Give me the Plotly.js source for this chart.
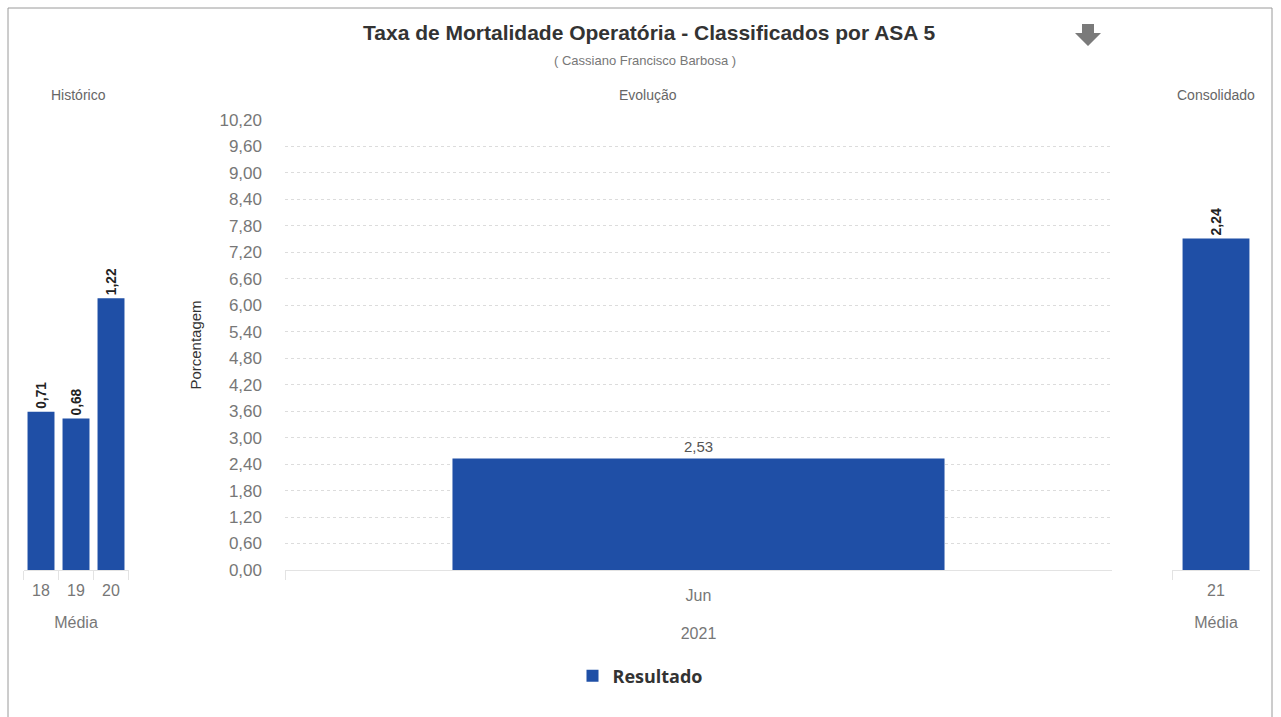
<!DOCTYPE html>
<html>
<head>
<meta charset="utf-8">
<script src="https://cdn.plot.ly/plotly-3.0.1.min.js"></script>
<style>html,body{margin:0;padding:0;background:#fff}#chart{width:1281px;height:717px}</style>
</head>
<body>
<div id="chart"></div>
<script>
// ---- Data ----
const historicoCategories = ["18", "19", "20"];
const historicoValues = [0.71, 0.68, 1.22];
const evolucaoCategories = ["Jun"];
const evolucaoValues = [2.53];
const consolidadoCategories = ["21"];
const consolidadoValues = [2.24];
const yTickValues = [0, 0.6, 1.2, 1.8, 2.4, 3.0, 3.6, 4.2, 4.8, 5.4, 6.0, 6.6, 7.2, 7.8, 8.4, 9.0, 9.6, 10.2];

const W = 1281, H = 717;
const px = v => v / W;
const py = v => 1 - v / H;
const blue = "#1f4fa6";
const FONT = "Liberation Sans, Arial, sans-serif";

const yDomain = [py(570), py(120)];

const traces = [
  {
    type: "bar", x: historicoCategories, y: historicoValues,
    xaxis: "x", yaxis: "y", marker: {color: blue}, width: 0.77,
    text: historicoValues, texttemplate: "%{y:.2f}", textposition: "outside",
    textangle: -90, cliponaxis: false,
    textfont: {family: FONT, size: 14, color: "#222", weight: "bold"},
    showlegend: false, hoverinfo: "x+y"
  },
  {
    type: "bar", x: evolucaoCategories, y: evolucaoValues, name: "Resultado",
    xaxis: "x2", yaxis: "y2", marker: {color: blue}, width: 0.595,
    text: evolucaoValues, texttemplate: "%{y:.2f}", textposition: "outside",
    textangle: 0, cliponaxis: false,
    textfont: {family: FONT, size: 15, color: "#555"},
    showlegend: true
  },
  {
    type: "bar", x: consolidadoCategories, y: consolidadoValues,
    xaxis: "x3", yaxis: "y3", marker: {color: blue}, width: 0.76,
    text: consolidadoValues, texttemplate: "%{y:.2f}", textposition: "outside",
    textangle: -90, cliponaxis: false,
    textfont: {family: FONT, size: 14, color: "#222", weight: "bold"},
    showlegend: false
  }
];

const xCommon = {
  type: "category", showgrid: false, showline: true, linecolor: "#e3e3e3", linewidth: 1,
  ticks: "outside", tickson: "boundaries", ticklen: 9, tickcolor: "#e3e3e3",
  tickfont: {family: FONT, size: 16, color: "#777"}, fixedrange: true
};

const layout = {
  width: W, height: H,
  margin: {l: 0, r: 0, t: 0, b: 0},
  paper_bgcolor: "#fff", plot_bgcolor: "#fff",
  separators: ",.",
  font: {family: FONT},
  xaxis: Object.assign({}, xCommon, {domain: [px(23.5), px(128.5)], anchor: "y",
    ticklabelstandoff: 6,
    title: {text: "Média", font: {family: FONT, size: 16, color: "#777"}, standoff: 18}}),
  yaxis: {domain: yDomain, range: [0, 2.02], visible: false, anchor: "x", fixedrange: true},
  xaxis2: Object.assign({}, xCommon, {domain: [px(285), px(1112)], anchor: "y2",
    ticklabelstandoff: 11,
    title: {text: "2021", font: {family: FONT, size: 16, color: "#777"}, standoff: 24}}),
  yaxis2: {domain: yDomain, range: [0, 10.2], anchor: "x2", tickvals: yTickValues,
    tickformat: ".2f", showgrid: true, gridcolor: "#dcdcdc", griddash: "dot", gridwidth: 1,
    zeroline: false, showline: false, ticks: "", ticklabelstandoff: 22,
    tickfont: {family: FONT, size: 17, color: "#777"}, fixedrange: true,
    title: {text: "Porcentagem", font: {family: FONT, size: 15, color: "#333"}, standoff: 14}},
  xaxis3: Object.assign({}, xCommon, {domain: [px(1172), px(1260)], anchor: "y3",
    ticklabelstandoff: 6,
    title: {text: "Média", font: {family: FONT, size: 16, color: "#777"}, standoff: 18}}),
  yaxis3: {domain: yDomain, range: [0, 3.04], visible: false, anchor: "x3", fixedrange: true},
  showlegend: true,
  legend: {orientation: "h", x: 0.5, xanchor: "center", y: py(676), yanchor: "middle",
    font: {family: "Open Sans, sans-serif", size: 18, color: "#333", weight: "bold"}},
  annotations: [
    {text: "Taxa de Mortalidade Operatória - Classificados por ASA 5", xref: "paper", yref: "paper",
     x: px(649), y: py(33), showarrow: false, xanchor: "center", yanchor: "middle",
     font: {family: FONT, size: 21, color: "#333", weight: "bold"}},
    {text: "( Cassiano Francisco Barbosa )", xref: "paper", yref: "paper",
     x: px(645), y: py(60), showarrow: false, xanchor: "center", yanchor: "middle",
     font: {family: FONT, size: 13, color: "#777"}},
    {text: "Histórico", xref: "paper", yref: "paper", x: px(78), y: py(95), showarrow: false,
     xanchor: "center", yanchor: "middle", font: {family: FONT, size: 14, color: "#666"}},
    {text: "Evolução", xref: "paper", yref: "paper", x: px(648), y: py(95), showarrow: false,
     xanchor: "center", yanchor: "middle", font: {family: FONT, size: 14, color: "#666"}},
    {text: "Consolidado", xref: "paper", yref: "paper", x: px(1216), y: py(95), showarrow: false,
     xanchor: "center", yanchor: "middle", font: {family: FONT, size: 14, color: "#666"}}
  ],
  shapes: [
    {type: "rect", xref: "paper", yref: "paper", x0: px(8), x1: px(1272), y0: -0.02, y1: py(8),
     line: {color: "#9a9a9a", width: 1}, fillcolor: "rgba(0,0,0,0)", layer: "below"},
    {type: "path", xref: "paper", yref: "paper",
     path: "M " + px(1082) + "," + py(24) + " L " + px(1094) + "," + py(24) +
           " L " + px(1094) + "," + py(33) + " L " + px(1101) + "," + py(33) +
           " L " + px(1088) + "," + py(46) + " L " + px(1075) + "," + py(33) +
           " L " + px(1082) + "," + py(33) + " Z",
     fillcolor: "#7a7a7a", line: {width: 0}}
  ]
};

Plotly.newPlot("chart", traces, layout, {displayModeBar: false});
</script>
</body>
</html>
